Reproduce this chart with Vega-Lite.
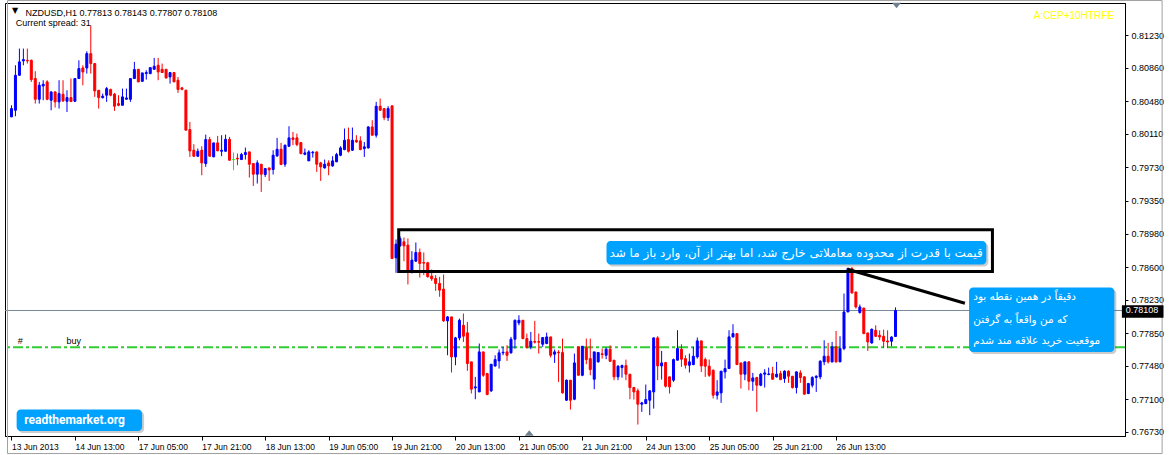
{
"$schema":"https://vega.github.io/schema/vega-lite/v6.json",
"width":1120,"height":433,
"autosize":{"type":"none"},
"padding":{"left":5,"top":3,"right":44,"bottom":19},
"background":"white",
"config":{"view":{"stroke":"black","strokeWidth":1},"text":{"font":"Liberation Sans"},"axis":{"grid":false,"title":null,"labelOverlap":false,"labelBound":false}},
"resolve":{"axis":{"x":"independent","y":"independent"}},
"datasets":{
"candles":[
{"i":0,"o":0.80304,"h":0.80436,"l":0.80304,"c":0.80398},
{"i":1,"o":0.80379,"h":0.80890,"l":0.80311,"c":0.80776},
{"i":2,"o":0.80776,"h":0.81079,"l":0.80776,"c":0.80928},
{"i":3,"o":0.80939,"h":0.81079,"l":0.80890,"c":0.80954},
{"i":4,"o":0.80946,"h":0.81079,"l":0.80909,"c":0.80939},
{"i":5,"o":0.80946,"h":0.80954,"l":0.80701,"c":0.80727},
{"i":6,"o":0.80739,"h":0.80822,"l":0.80455,"c":0.80504},
{"i":7,"o":0.80504,"h":0.80701,"l":0.80455,"c":0.80663},
{"i":8,"o":0.80655,"h":0.80720,"l":0.80493,"c":0.80674},
{"i":9,"o":0.80701,"h":0.80720,"l":0.80493,"c":0.80504},
{"i":10,"o":0.80493,"h":0.80595,"l":0.80379,"c":0.80587},
{"i":11,"o":0.80587,"h":0.80595,"l":0.80410,"c":0.80474},
{"i":12,"o":0.80474,"h":0.80720,"l":0.80398,"c":0.80568},
{"i":13,"o":0.80561,"h":0.80720,"l":0.80474,"c":0.80485},
{"i":14,"o":0.80481,"h":0.80606,"l":0.80360,"c":0.80523},
{"i":15,"o":0.80523,"h":0.80739,"l":0.80478,"c":0.80478},
{"i":16,"o":0.80481,"h":0.80739,"l":0.80474,"c":0.80739},
{"i":17,"o":0.80739,"h":0.80946,"l":0.80739,"c":0.80852},
{"i":18,"o":0.80859,"h":0.80890,"l":0.80663,"c":0.80814},
{"i":19,"o":0.80859,"h":0.81048,"l":0.80795,"c":0.81022},
{"i":20,"o":0.81022,"h":0.81343,"l":0.80795,"c":0.80909},
{"i":21,"o":0.80909,"h":0.80909,"l":0.80531,"c":0.80599},
{"i":22,"o":0.80606,"h":0.80606,"l":0.80398,"c":0.80523},
{"i":23,"o":0.80523,"h":0.80568,"l":0.80512,"c":0.80538},
{"i":24,"o":0.80550,"h":0.80644,"l":0.80474,"c":0.80625},
{"i":25,"o":0.80614,"h":0.80625,"l":0.80538,"c":0.80550},
{"i":26,"o":0.80561,"h":0.80576,"l":0.80372,"c":0.80425},
{"i":27,"o":0.80455,"h":0.80550,"l":0.80425,"c":0.80436},
{"i":28,"o":0.80436,"h":0.80625,"l":0.80436,"c":0.80531},
{"i":29,"o":0.80504,"h":0.80625,"l":0.80504,"c":0.80519},
{"i":30,"o":0.80504,"h":0.80739,"l":0.80474,"c":0.80739},
{"i":31,"o":0.80739,"h":0.80928,"l":0.80739,"c":0.80841},
{"i":32,"o":0.80844,"h":0.80844,"l":0.80701,"c":0.80701},
{"i":33,"o":0.80708,"h":0.80803,"l":0.80701,"c":0.80803},
{"i":34,"o":0.80795,"h":0.80833,"l":0.80727,"c":0.80807},
{"i":35,"o":0.80795,"h":0.80863,"l":0.80788,"c":0.80863},
{"i":36,"o":0.80844,"h":0.80973,"l":0.80844,"c":0.80878},
{"i":37,"o":0.80890,"h":0.80973,"l":0.80720,"c":0.80814},
{"i":38,"o":0.80844,"h":0.80909,"l":0.80807,"c":0.80807},
{"i":39,"o":0.80844,"h":0.80844,"l":0.80739,"c":0.80746},
{"i":40,"o":0.80757,"h":0.80807,"l":0.80682,"c":0.80807},
{"i":41,"o":0.80807,"h":0.80807,"l":0.80701,"c":0.80701},
{"i":42,"o":0.80720,"h":0.80757,"l":0.80576,"c":0.80614},
{"i":43,"o":0.80633,"h":0.80644,"l":0.80606,"c":0.80617},
{"i":44,"o":0.80606,"h":0.80614,"l":0.80153,"c":0.80153},
{"i":45,"o":0.80160,"h":0.80247,"l":0.79850,"c":0.79918},
{"i":46,"o":0.79926,"h":0.79994,"l":0.79850,"c":0.79858},
{"i":47,"o":0.79858,"h":0.79945,"l":0.79850,"c":0.79914},
{"i":48,"o":0.79926,"h":0.79971,"l":0.79642,"c":0.79782},
{"i":49,"o":0.79775,"h":0.80103,"l":0.79737,"c":0.80047},
{"i":50,"o":0.80047,"h":0.80077,"l":0.79858,"c":0.79858},
{"i":51,"o":0.79850,"h":0.80009,"l":0.79850,"c":0.80009},
{"i":52,"o":0.80009,"h":0.80088,"l":0.79918,"c":0.79918},
{"i":53,"o":0.79914,"h":0.80096,"l":0.79858,"c":0.79926},
{"i":54,"o":0.79914,"h":0.80103,"l":0.79914,"c":0.80050},
{"i":55,"o":0.80050,"h":0.80077,"l":0.79812,"c":0.79812},
{"i":56,"o":0.79820,"h":0.79899,"l":0.79699,"c":0.79820},
{"i":57,"o":0.79835,"h":0.79888,"l":0.79756,"c":0.79827},
{"i":58,"o":0.79820,"h":0.79896,"l":0.79820,"c":0.79877},
{"i":59,"o":0.79877,"h":0.79956,"l":0.79820,"c":0.79899},
{"i":60,"o":0.79907,"h":0.79907,"l":0.79616,"c":0.79767},
{"i":61,"o":0.79775,"h":0.79775,"l":0.79521,"c":0.79654},
{"i":62,"o":0.79654,"h":0.79812,"l":0.79548,"c":0.79782},
{"i":63,"o":0.79767,"h":0.79767,"l":0.79453,"c":0.79654},
{"i":64,"o":0.79650,"h":0.79718,"l":0.79623,"c":0.79718},
{"i":65,"o":0.79725,"h":0.79725,"l":0.79578,"c":0.79703},
{"i":66,"o":0.79707,"h":0.79926,"l":0.79650,"c":0.79869},
{"i":67,"o":0.79862,"h":0.80066,"l":0.79850,"c":0.79937},
{"i":68,"o":0.79937,"h":0.80009,"l":0.79763,"c":0.79763},
{"i":69,"o":0.79767,"h":0.79990,"l":0.79737,"c":0.79983},
{"i":70,"o":0.79971,"h":0.80198,"l":0.79964,"c":0.80066},
{"i":71,"o":0.80066,"h":0.80134,"l":0.79983,"c":0.80047},
{"i":72,"o":0.80066,"h":0.80115,"l":0.79971,"c":0.79990},
{"i":73,"o":0.80013,"h":0.80013,"l":0.79880,"c":0.79888},
{"i":74,"o":0.79880,"h":0.79945,"l":0.79869,"c":0.79896},
{"i":75,"o":0.79805,"h":0.79926,"l":0.79805,"c":0.79907},
{"i":76,"o":0.79896,"h":0.79918,"l":0.79843,"c":0.79903},
{"i":77,"o":0.79907,"h":0.79907,"l":0.79680,"c":0.79767},
{"i":78,"o":0.79782,"h":0.79794,"l":0.79578,"c":0.79737},
{"i":79,"o":0.79725,"h":0.79820,"l":0.79718,"c":0.79767},
{"i":80,"o":0.79782,"h":0.79812,"l":0.79642,"c":0.79748},
{"i":81,"o":0.79748,"h":0.79858,"l":0.79737,"c":0.79805},
{"i":82,"o":0.79794,"h":0.79896,"l":0.79794,"c":0.79877},
{"i":83,"o":0.79869,"h":0.79971,"l":0.79858,"c":0.79952},
{"i":84,"o":0.79933,"h":0.80172,"l":0.79926,"c":0.80039},
{"i":85,"o":0.80047,"h":0.80183,"l":0.79899,"c":0.79914},
{"i":86,"o":0.79926,"h":0.80183,"l":0.79918,"c":0.80039},
{"i":87,"o":0.80039,"h":0.80096,"l":0.80009,"c":0.80020},
{"i":88,"o":0.80032,"h":0.80084,"l":0.79926,"c":0.79933},
{"i":89,"o":0.79945,"h":0.80020,"l":0.79850,"c":0.79964},
{"i":90,"o":0.79952,"h":0.80198,"l":0.79945,"c":0.80190},
{"i":91,"o":0.80190,"h":0.80266,"l":0.80096,"c":0.80096},
{"i":92,"o":0.80096,"h":0.80474,"l":0.80069,"c":0.80425},
{"i":93,"o":0.80425,"h":0.80512,"l":0.80379,"c":0.80379},
{"i":94,"o":0.80398,"h":0.80398,"l":0.80266,"c":0.80296},
{"i":95,"o":0.80296,"h":0.80425,"l":0.80258,"c":0.80398},
{"i":96,"o":0.80429,"h":0.80436,"l":0.78690,"c":0.78698},
{"i":97,"o":0.78705,"h":0.78913,"l":0.78535,"c":0.78860},
{"i":98,"o":0.78841,"h":0.78951,"l":0.78830,"c":0.78925},
{"i":99,"o":0.78887,"h":0.78936,"l":0.78667,"c":0.78841},
{"i":100,"o":0.78849,"h":0.78925,"l":0.78403,"c":0.78565},
{"i":101,"o":0.78565,"h":0.78781,"l":0.78528,"c":0.78679},
{"i":102,"o":0.78667,"h":0.78879,"l":0.78660,"c":0.78766},
{"i":103,"o":0.78766,"h":0.78811,"l":0.78482,"c":0.78641},
{"i":104,"o":0.78652,"h":0.78766,"l":0.78509,"c":0.78645},
{"i":105,"o":0.78649,"h":0.78660,"l":0.78482,"c":0.78490},
{"i":106,"o":0.78497,"h":0.78573,"l":0.78444,"c":0.78467},
{"i":107,"o":0.78471,"h":0.78509,"l":0.78331,"c":0.78414},
{"i":108,"o":0.78414,"h":0.78490,"l":0.78263,"c":0.78339},
{"i":109,"o":0.78350,"h":0.78516,"l":0.77978,"c":0.77990},
{"i":110,"o":0.77990,"h":0.78043,"l":0.77600,"c":0.78035},
{"i":111,"o":0.78035,"h":0.78035,"l":0.77404,"c":0.77581},
{"i":112,"o":0.77581,"h":0.77808,"l":0.77487,"c":0.77797},
{"i":113,"o":0.77797,"h":0.78016,"l":0.77770,"c":0.77997},
{"i":114,"o":0.77940,"h":0.78073,"l":0.77751,"c":0.77816},
{"i":115,"o":0.77854,"h":0.77978,"l":0.77423,"c":0.77506},
{"i":116,"o":0.77525,"h":0.77525,"l":0.77166,"c":0.77215},
{"i":117,"o":0.77230,"h":0.77355,"l":0.77101,"c":0.77241},
{"i":118,"o":0.77184,"h":0.77733,"l":0.77184,"c":0.77638},
{"i":119,"o":0.77638,"h":0.77638,"l":0.77355,"c":0.77373},
{"i":120,"o":0.77392,"h":0.77400,"l":0.77147,"c":0.77154},
{"i":121,"o":0.77196,"h":0.77498,"l":0.77184,"c":0.77498},
{"i":122,"o":0.77479,"h":0.77600,"l":0.77468,"c":0.77551},
{"i":123,"o":0.77536,"h":0.77665,"l":0.77449,"c":0.77627},
{"i":124,"o":0.77627,"h":0.77695,"l":0.77600,"c":0.77634},
{"i":125,"o":0.77638,"h":0.77714,"l":0.77536,"c":0.77600},
{"i":126,"o":0.77627,"h":0.77808,"l":0.77619,"c":0.77782},
{"i":127,"o":0.77782,"h":0.78005,"l":0.77676,"c":0.77997},
{"i":128,"o":0.77967,"h":0.78054,"l":0.77940,"c":0.77997},
{"i":129,"o":0.77997,"h":0.77997,"l":0.77782,"c":0.77789},
{"i":130,"o":0.77789,"h":0.77846,"l":0.77676,"c":0.77687},
{"i":131,"o":0.77695,"h":0.77865,"l":0.77668,"c":0.77759},
{"i":132,"o":0.77755,"h":0.77990,"l":0.77733,"c":0.77748},
{"i":133,"o":0.77755,"h":0.77846,"l":0.77619,"c":0.77748},
{"i":134,"o":0.77725,"h":0.77801,"l":0.77695,"c":0.77801},
{"i":135,"o":0.77733,"h":0.77857,"l":0.77725,"c":0.77808},
{"i":136,"o":0.77808,"h":0.77808,"l":0.77574,"c":0.77600},
{"i":137,"o":0.77612,"h":0.77665,"l":0.77513,"c":0.77638},
{"i":138,"o":0.77634,"h":0.77657,"l":0.77298,"c":0.77627},
{"i":139,"o":0.77631,"h":0.77789,"l":0.77166,"c":0.77173},
{"i":140,"o":0.77090,"h":0.77324,"l":0.77082,"c":0.77317},
{"i":141,"o":0.77317,"h":0.77317,"l":0.76984,"c":0.77090},
{"i":142,"o":0.77101,"h":0.77619,"l":0.77090,"c":0.77513},
{"i":143,"o":0.77695,"h":0.77695,"l":0.77373,"c":0.77373},
{"i":144,"o":0.77373,"h":0.77702,"l":0.77362,"c":0.77702},
{"i":145,"o":0.77683,"h":0.77789,"l":0.77498,"c":0.77551},
{"i":146,"o":0.77562,"h":0.77789,"l":0.77373,"c":0.77438},
{"i":147,"o":0.77328,"h":0.77638,"l":0.77215,"c":0.77638},
{"i":148,"o":0.77525,"h":0.77638,"l":0.77517,"c":0.77631},
{"i":149,"o":0.77616,"h":0.77676,"l":0.77562,"c":0.77608},
{"i":150,"o":0.77600,"h":0.77687,"l":0.77555,"c":0.77668},
{"i":151,"o":0.77668,"h":0.77714,"l":0.77525,"c":0.77532},
{"i":152,"o":0.77544,"h":0.77544,"l":0.77317,"c":0.77355},
{"i":153,"o":0.77355,"h":0.77487,"l":0.77317,"c":0.77476},
{"i":154,"o":0.77460,"h":0.77494,"l":0.77347,"c":0.77483},
{"i":155,"o":0.77483,"h":0.77551,"l":0.77317,"c":0.77385},
{"i":156,"o":0.77385,"h":0.77385,"l":0.77101,"c":0.77234},
{"i":157,"o":0.77234,"h":0.77241,"l":0.77098,"c":0.77184},
{"i":158,"o":0.77196,"h":0.77222,"l":0.76814,"c":0.77045},
{"i":159,"o":0.77045,"h":0.77071,"l":0.76958,"c":0.77060},
{"i":160,"o":0.77052,"h":0.77268,"l":0.77045,"c":0.77098},
{"i":161,"o":0.77090,"h":0.77203,"l":0.76920,"c":0.77196},
{"i":162,"o":0.77184,"h":0.77801,"l":0.76995,"c":0.77797},
{"i":163,"o":0.77797,"h":0.77816,"l":0.77317,"c":0.77479},
{"i":164,"o":0.77479,"h":0.77649,"l":0.77324,"c":0.77513},
{"i":165,"o":0.77517,"h":0.77525,"l":0.77234,"c":0.77249},
{"i":166,"o":0.77355,"h":0.77355,"l":0.77166,"c":0.77241},
{"i":167,"o":0.77317,"h":0.77562,"l":0.77298,"c":0.77551},
{"i":168,"o":0.77544,"h":0.77884,"l":0.77544,"c":0.77676},
{"i":169,"o":0.77668,"h":0.77725,"l":0.77468,"c":0.77555},
{"i":170,"o":0.77562,"h":0.77600,"l":0.77449,"c":0.77487},
{"i":171,"o":0.77487,"h":0.77619,"l":0.77404,"c":0.77525},
{"i":172,"o":0.77494,"h":0.77695,"l":0.77487,"c":0.77589},
{"i":173,"o":0.77581,"h":0.77801,"l":0.77562,"c":0.77763},
{"i":174,"o":0.77763,"h":0.77763,"l":0.77411,"c":0.77479},
{"i":175,"o":0.77551,"h":0.77574,"l":0.77355,"c":0.77476},
{"i":176,"o":0.77476,"h":0.77551,"l":0.77355,"c":0.77373},
{"i":177,"o":0.77430,"h":0.77438,"l":0.77109,"c":0.77147},
{"i":178,"o":0.77147,"h":0.77317,"l":0.77098,"c":0.77184},
{"i":179,"o":0.77173,"h":0.77423,"l":0.77060,"c":0.77419},
{"i":180,"o":0.77411,"h":0.77551,"l":0.77336,"c":0.77449},
{"i":181,"o":0.77449,"h":0.77884,"l":0.77449,"c":0.77808},
{"i":182,"o":0.77808,"h":0.77952,"l":0.77801,"c":0.77846},
{"i":183,"o":0.77846,"h":0.77846,"l":0.77494,"c":0.77494},
{"i":184,"o":0.77513,"h":0.77513,"l":0.77222,"c":0.77385},
{"i":185,"o":0.77385,"h":0.77525,"l":0.77317,"c":0.77525},
{"i":186,"o":0.77525,"h":0.77532,"l":0.77203,"c":0.77305},
{"i":187,"o":0.77305,"h":0.77400,"l":0.77196,"c":0.77343},
{"i":188,"o":0.77347,"h":0.77355,"l":0.76958,"c":0.77260},
{"i":189,"o":0.77260,"h":0.77400,"l":0.77249,"c":0.77385},
{"i":190,"o":0.77385,"h":0.77442,"l":0.77234,"c":0.77400},
{"i":191,"o":0.77381,"h":0.77460,"l":0.77373,"c":0.77388},
{"i":192,"o":0.77392,"h":0.77468,"l":0.77324,"c":0.77328},
{"i":193,"o":0.77355,"h":0.77525,"l":0.77347,"c":0.77385},
{"i":194,"o":0.77392,"h":0.77423,"l":0.77317,"c":0.77324},
{"i":195,"o":0.77336,"h":0.77430,"l":0.77287,"c":0.77419},
{"i":196,"o":0.77419,"h":0.77430,"l":0.77287,"c":0.77362},
{"i":197,"o":0.77362,"h":0.77362,"l":0.77222,"c":0.77234},
{"i":198,"o":0.77234,"h":0.77419,"l":0.77166,"c":0.77411},
{"i":199,"o":0.77400,"h":0.77430,"l":0.77287,"c":0.77347},
{"i":200,"o":0.77355,"h":0.77362,"l":0.77158,"c":0.77158},
{"i":201,"o":0.77166,"h":0.77287,"l":0.77158,"c":0.77279},
{"i":202,"o":0.77260,"h":0.77362,"l":0.77234,"c":0.77347},
{"i":203,"o":0.77347,"h":0.77373,"l":0.77184,"c":0.77362},
{"i":204,"o":0.77355,"h":0.77544,"l":0.77328,"c":0.77532},
{"i":205,"o":0.77525,"h":0.77770,"l":0.77487,"c":0.77589},
{"i":206,"o":0.77589,"h":0.77740,"l":0.77506,"c":0.77525},
{"i":207,"o":0.77525,"h":0.77751,"l":0.77517,"c":0.77695},
{"i":208,"o":0.77695,"h":0.77876,"l":0.77517,"c":0.77525},
{"i":209,"o":0.77525,"h":0.77816,"l":0.77525,"c":0.77676},
{"i":210,"o":0.77676,"h":0.78300,"l":0.77657,"c":0.78091},
{"i":211,"o":0.78091,"h":0.78595,"l":0.78091,"c":0.78583},
{"i":212,"o":0.78583,"h":0.78602,"l":0.78300,"c":0.78307},
{"i":213,"o":0.78318,"h":0.78318,"l":0.78130,"c":0.78148},
{"i":214,"o":0.78084,"h":0.78175,"l":0.78073,"c":0.78148},
{"i":215,"o":0.78136,"h":0.78136,"l":0.77838,"c":0.77846},
{"i":216,"o":0.77853,"h":0.77853,"l":0.77649,"c":0.77751},
{"i":217,"o":0.77739,"h":0.77903,"l":0.77733,"c":0.77895},
{"i":218,"o":0.77883,"h":0.77940,"l":0.77807,"c":0.77815},
{"i":219,"o":0.77827,"h":0.77883,"l":0.77770,"c":0.77807},
{"i":220,"o":0.77815,"h":0.77891,"l":0.77683,"c":0.77759},
{"i":221,"o":0.77762,"h":0.77883,"l":0.77683,"c":0.77751},
{"i":222,"o":0.77759,"h":0.77815,"l":0.77702,"c":0.77807},
{"i":223,"o":0.77813,"h":0.78143,"l":0.77807,"c":0.78108}
]
},
"layer":[
{"data":{"values":[{"p":0.78108}]},
 "mark":{"type":"rule","color":"#778899","strokeWidth":1},
 "encoding":{"y":{"field":"p","type":"quantitative","scale":{"domain":[0.76684,0.81596],"nice":false,"zero":false},"axis":null}}},
{"data":{"values":[{"p":0.77692}]},
 "mark":{"type":"rule","color":"#32cd32","strokeWidth":2,"strokeDash":[10,3,3,3]},
 "encoding":{"y":{"field":"p","type":"quantitative","scale":{"domain":[0.76684,0.81596],"nice":false,"zero":false},"axis":null}}},
{"data":{"name":"candles"},
 "mark":{"type":"rule","strokeWidth":1},
 "encoding":{
  "x":{"field":"i","type":"quantitative","scale":{"domain":[-0.375,279.625],"nice":false,"zero":false},
   "axis":{"orient":"bottom","values":[0,16,32,48,64,80,96,112,128,144,160,176,192,208],"title":null,"grid":false,"tickSize":4,"tickColor":"black","domainColor":"black","labelAlign":"left","labelBaseline":"top","labelPadding":2,"labelFont":"Liberation Sans","labelFontSize":8.5,"labelColor":"black","labelFlush":false,"labelOverlap":false,
    "labelExpr":"['13 Jun 2013','14 Jun 13:00','17 Jun 05:00','17 Jun 21:00','18 Jun 13:00','19 Jun 05:00','19 Jun 21:00','20 Jun 13:00','21 Jun 05:00','21 Jun 21:00','24 Jun 13:00','25 Jun 05:00','25 Jun 21:00','26 Jun 13:00'][round(datum.value/16)]"}},
  "y":{"field":"l","type":"quantitative","scale":{"domain":[0.76684,0.81596],"nice":false,"zero":false},
   "axis":{"orient":"right","values":[0.81230,0.80860,0.80480,0.80110,0.79730,0.79350,0.78980,0.78600,0.78230,0.77850,0.77480,0.77100,0.76730],"format":".5f","title":null,"grid":false,"tickSize":3,"tickColor":"black","domainColor":"black","labelPadding":3,"labelFont":"Liberation Sans","labelFontSize":9,"labelColor":"black","labelFlush":false,"labelOverlap":false}},
  "y2":{"field":"h"},
  "color":{"condition":[{"test":"datum.c > datum.o","value":"#0000ff"},{"test":"datum.c < datum.o","value":"#ff0000"}],"value":"#00ff00"}}},
{"data":{"name":"candles"},
 "mark":{"type":"bar","width":2,"strokeWidth":1},
 "encoding":{
  "x":{"field":"i","type":"quantitative","scale":{"domain":[-0.375,279.625],"nice":false,"zero":false},"axis":null},
  "y":{"field":"o","type":"quantitative","scale":{"domain":[0.76684,0.81596],"nice":false,"zero":false},"axis":null},
  "y2":{"field":"c"},
  "fill":{"condition":[{"test":"datum.c > datum.o","value":"#0000ff"},{"test":"datum.c < datum.o","value":"#ff0000"}],"value":"#00ff00"},
  "stroke":{"condition":[{"test":"datum.c > datum.o","value":"#0000ff"},{"test":"datum.c < datum.o","value":"#ff0000"}],"value":"#00ff00"}}},
{"data":{"values":[{"x1":97.68,"x2":247.45,"y1":0.79024,"y2":0.78549}]},
 "mark":{"type":"rect","fill":null,"filled":false,"stroke":"black","strokeWidth":3},
 "encoding":{
  "x":{"field":"x1","type":"quantitative","scale":{"domain":[-0.375,279.625],"nice":false,"zero":false},"axis":null},"x2":{"field":"x2"},
  "y":{"field":"y1","type":"quantitative","scale":{"domain":[0.76684,0.81596],"nice":false,"zero":false},"axis":null},"y2":{"field":"y2"}}},
{"data":{"values":[{"x1":210.9,"x2":240.5,"y1":0.78576,"y2":0.78190}]},
 "mark":{"type":"rule","color":"black","strokeWidth":3},
 "encoding":{
  "x":{"field":"x1","type":"quantitative","scale":{"domain":[-0.375,279.625],"nice":false,"zero":false},"axis":null},"x2":{"field":"x2"},
  "y":{"field":"y1","type":"quantitative","scale":{"domain":[0.76684,0.81596],"nice":false,"zero":false},"axis":null},"y2":{"field":"y2"}}},
{"data":{"values":[{"x1":150.6,"x2":246.4,"y1":0.78874,"y2":0.78606},{"x1":242.05,"x2":278.7,"y1":0.78345,"y2":0.77614},{"x1":1.8,"x2":33.45,"y1":0.76961,"y2":0.76718}]},
 "mark":{"type":"rect","fill":"#555555","opacity":0.3,"cornerRadius":4},
 "encoding":{
  "x":{"field":"x1","type":"quantitative","scale":{"domain":[-0.375,279.625],"nice":false,"zero":false},"axis":null},"x2":{"field":"x2"},
  "y":{"field":"y1","type":"quantitative","scale":{"domain":[0.76684,0.81596],"nice":false,"zero":false},"axis":null},"y2":{"field":"y2"}}},
{"data":{"values":[{"x1":150.1,"x2":245.9,"y1":0.78897,"y2":0.78629},{"x1":241.55,"x2":278.2,"y1":0.78368,"y2":0.77637},{"x1":1.3,"x2":32.95,"y1":0.76984,"y2":0.76741}]},
 "mark":{"type":"rect","fill":"#00a2ff","cornerRadius":4},
 "encoding":{
  "x":{"field":"x1","type":"quantitative","scale":{"domain":[-0.375,279.625],"nice":false,"zero":false},"axis":null},"x2":{"field":"x2"},
  "y":{"field":"y1","type":"quantitative","scale":{"domain":[0.76684,0.81596],"nice":false,"zero":false},"axis":null},"y2":{"field":"y2"}}},
{"data":{"values":[{"x1":-1.0,"x2":290.25,"y1":0.81624,"y2":0.76485}]},
 "mark":{"type":"rect","fill":null,"filled":false,"stroke":"#a0a0a0","strokeWidth":1},
 "encoding":{
  "x":{"field":"x1","type":"quantitative","scale":{"domain":[-0.375,279.625],"nice":false,"zero":false},"axis":null},"x2":{"field":"x2"},
  "y":{"field":"y1","type":"quantitative","scale":{"domain":[0.76684,0.81596],"nice":false,"zero":false},"axis":null},"y2":{"field":"y2"}}},
{"data":{"values":[{"x":197.9,"y":0.78757,"t":"قیمت با قدرت از محدوده معاملاتی خارج شد، اما بهتر از آن، وارد باز ما شد"}]},
 "mark":{"type":"text","color":"white","font":"DejaVu Sans","fontSize":12,"align":"center","baseline":"middle"},
 "encoding":{
  "x":{"field":"x","type":"quantitative","scale":{"domain":[-0.375,279.625],"nice":false,"zero":false},"axis":null},
  "y":{"field":"y","type":"quantitative","scale":{"domain":[0.76684,0.81596],"nice":false,"zero":false},"axis":null},
  "text":{"field":"t"}}},
{"data":{"values":[{"x":242.6,"y":0.78258,"t":"دقیقاً در همین نقطه بود"},{"x":242.6,"y":0.77997,"t":"که من واقعاً به گرفتن"},{"x":242.6,"y":0.77759,"t":"موقعیت خرید علاقه مند شدم"}]},
 "mark":{"type":"text","color":"white","font":"DejaVu Sans","fontSize":10.5,"align":"left","baseline":"middle"},
 "encoding":{
  "x":{"field":"x","type":"quantitative","scale":{"domain":[-0.375,279.625],"nice":false,"zero":false},"axis":null},
  "y":{"field":"y","type":"quantitative","scale":{"domain":[0.76684,0.81596],"nice":false,"zero":false},"axis":null},
  "text":{"field":"t"}}},
{"data":{"values":[{"x":15.9,"y":0.76863,"t":"readthemarket.org"}]},
 "mark":{"type":"text","color":"white","font":"Roboto","fontWeight":"bold","fontSize":12,"align":"center","baseline":"middle"},
 "encoding":{
  "x":{"field":"x","type":"quantitative","scale":{"domain":[-0.375,279.625],"nice":false,"zero":false},"axis":null},
  "y":{"field":"y","type":"quantitative","scale":{"domain":[0.76684,0.81596],"nice":false,"zero":false},"axis":null},
  "text":{"field":"t"}}},
{"data":{"values":[{"x":3.55,"y":0.81449,"t":"NZDUSD,H1  0.77813 0.78143 0.77807 0.78108"},{"x":1.05,"y":0.81332,"t":"Current spread: 31"},{"x":1.6,"y":0.77725,"t":"#"},{"x":13.9,"y":0.77725,"t":"buy"}]},
 "mark":{"type":"text","font":"Liberation Sans","fontSize":9,"align":"left","baseline":"alphabetic","color":"black"},
 "encoding":{
  "x":{"field":"x","type":"quantitative","scale":{"domain":[-0.375,279.625],"nice":false,"zero":false},"axis":null},
  "y":{"field":"y","type":"quantitative","scale":{"domain":[0.76684,0.81596],"nice":false,"zero":false},"axis":null},
  "text":{"field":"t"}}},
{"data":{"values":[{"x":278.1,"y":0.81411,"t":"A:CEP+10HTRFE"}]},
 "mark":{"type":"text","font":"Liberation Sans","fontSize":10,"align":"right","baseline":"alphabetic","color":"#ffff00"},
 "encoding":{
  "x":{"field":"x","type":"quantitative","scale":{"domain":[-0.375,279.625],"nice":false,"zero":false},"axis":null},
  "y":{"field":"y","type":"quantitative","scale":{"domain":[0.76684,0.81596],"nice":false,"zero":false},"axis":null},
  "text":{"field":"t"}}},
{"data":{"values":[{"x":0.9,"y":0.81502,"t":"▼"}]},
 "mark":{"type":"text","font":"DejaVu Sans","fontSize":8,"align":"center","baseline":"middle","color":"black"},
 "encoding":{
  "x":{"field":"x","type":"quantitative","scale":{"domain":[-0.375,279.625],"nice":false,"zero":false},"axis":null},
  "y":{"field":"y","type":"quantitative","scale":{"domain":[0.76684,0.81596],"nice":false,"zero":false},"axis":null},
  "text":{"field":"t"}}},
{"data":{"values":[{"x1":280.1,"x2":290.6,"y1":0.78167,"y2":0.78025}]},
 "mark":{"type":"rect","fill":"black"},
 "encoding":{
  "x":{"field":"x1","type":"quantitative","scale":{"domain":[-0.375,279.625],"nice":false,"zero":false},"axis":null},"x2":{"field":"x2"},
  "y":{"field":"y1","type":"quantitative","scale":{"domain":[0.76684,0.81596],"nice":false,"zero":false},"axis":null},"y2":{"field":"y2"}}},
{"data":{"values":[{"x":281.1,"y":0.78108,"t":"0.78108"}]},
 "mark":{"type":"text","font":"Liberation Sans","fontSize":9,"align":"left","baseline":"middle","color":"white"},
 "encoding":{
  "x":{"field":"x","type":"quantitative","scale":{"domain":[-0.375,279.625],"nice":false,"zero":false},"axis":null},
  "y":{"field":"y","type":"quantitative","scale":{"domain":[0.76684,0.81596],"nice":false,"zero":false},"axis":null},
  "text":{"field":"t"}}},
{"data":{"values":[{"x":223.25,"y":0.81568,"s":"M-1,-0.6L1,-0.6L0,0.6Z"},{"x":130.6,"y":0.76718,"s":"M-1,0.6L1,0.6L0,-0.6Z"}]},
 "mark":{"type":"point","filled":true,"color":"#708090","size":81,"opacity":1},
 "encoding":{
  "x":{"field":"x","type":"quantitative","scale":{"domain":[-0.375,279.625],"nice":false,"zero":false},"axis":null},
  "y":{"field":"y","type":"quantitative","scale":{"domain":[0.76684,0.81596],"nice":false,"zero":false},"axis":null},
  "shape":{"field":"s","type":"nominal","scale":null}}}
]
}
